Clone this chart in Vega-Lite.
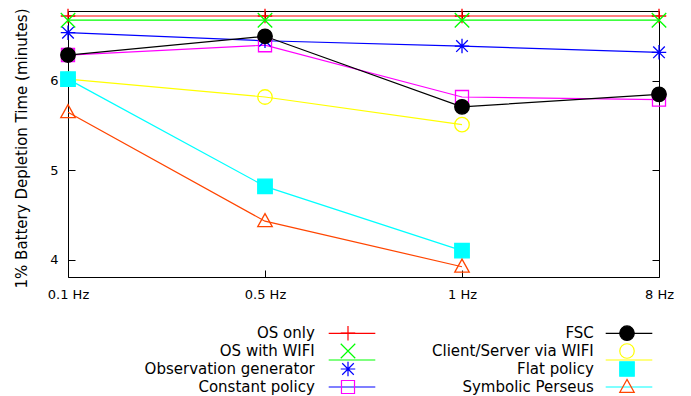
{
  "$schema": "https://vega.github.io/schema/vega-lite/v6.json",
  "width": 591,
  "height": 266,
  "autosize": {"type": "none"},
  "padding": {"left": 68, "top": 11, "right": 32, "bottom": 119},
  "background": "white",
  "config": {
    "view": {"stroke": "black", "strokeWidth": 1},
    "font": "DejaVu Sans",
    "axis": {
      "grid": false,
      "domain": false,
      "tickColor": "black",
      "tickWidth": 1,
      "tickSize": -7,
      "labelFont": "DejaVu Sans",
      "labelFontSize": 13,
      "labelColor": "black",
      "titleFont": "DejaVu Sans",
      "titleFontSize": 15,
      "titleFontWeight": "normal",
      "titleColor": "black"
    },
    "legend": {
      "labelFont": "DejaVu Sans",
      "labelFontSize": 15,
      "labelColor": "black",
      "labelLimit": 400
    }
  },
  "data": {
    "values": [
      {"series": "OS only", "freq": "0.1 Hz", "value": 6.727},
      {"series": "OS only", "freq": "0.5 Hz", "value": 6.727},
      {"series": "OS only", "freq": "1 Hz", "value": 6.727},
      {"series": "OS only", "freq": "8 Hz", "value": 6.727},
      {"series": "OS with WIFI", "freq": "0.1 Hz", "value": 6.68},
      {"series": "OS with WIFI", "freq": "0.5 Hz", "value": 6.68},
      {"series": "OS with WIFI", "freq": "1 Hz", "value": 6.68},
      {"series": "OS with WIFI", "freq": "8 Hz", "value": 6.68},
      {"series": "Observation generator", "freq": "0.1 Hz", "value": 6.54},
      {"series": "Observation generator", "freq": "0.5 Hz", "value": 6.45},
      {"series": "Observation generator", "freq": "1 Hz", "value": 6.39},
      {"series": "Observation generator", "freq": "8 Hz", "value": 6.32},
      {"series": "Constant policy", "freq": "0.1 Hz", "value": 6.29},
      {"series": "Constant policy", "freq": "0.5 Hz", "value": 6.40},
      {"series": "Constant policy", "freq": "1 Hz", "value": 5.82},
      {"series": "Constant policy", "freq": "8 Hz", "value": 5.79},
      {"series": "FSC", "freq": "0.1 Hz", "value": 6.29},
      {"series": "FSC", "freq": "0.5 Hz", "value": 6.50},
      {"series": "FSC", "freq": "1 Hz", "value": 5.71},
      {"series": "FSC", "freq": "8 Hz", "value": 5.85},
      {"series": "Client/Server via WIFI", "freq": "0.1 Hz", "value": 6.02},
      {"series": "Client/Server via WIFI", "freq": "0.5 Hz", "value": 5.82},
      {"series": "Client/Server via WIFI", "freq": "1 Hz", "value": 5.51},
      {"series": "Flat policy", "freq": "0.1 Hz", "value": 6.02},
      {"series": "Flat policy", "freq": "0.5 Hz", "value": 4.82},
      {"series": "Flat policy", "freq": "1 Hz", "value": 4.10},
      {"series": "Symbolic Perseus", "freq": "0.1 Hz", "value": 5.65},
      {"series": "Symbolic Perseus", "freq": "0.5 Hz", "value": 4.43},
      {"series": "Symbolic Perseus", "freq": "1 Hz", "value": 3.92}
    ]
  },
  "layer": [
    {
      "mark": {"type": "line", "strokeWidth": 1.2},
      "encoding": {
        "x": {
          "field": "freq", "type": "ordinal",
          "scale": {"type": "point", "padding": 0, "domain": ["0.1 Hz", "0.5 Hz", "1 Hz", "8 Hz"]},
          "axis": {"title": null, "labelAngle": 0, "labelPadding": 18, "orient": "bottom"}
        },
        "y": {
          "field": "value", "type": "quantitative",
          "scale": {"domain": [3.805, 6.783], "nice": false, "zero": false},
          "axis": {"title": "1% Battery Depletion Time (minutes)", "values": [4, 5, 6], "labelPadding": 17, "titlePadding": 20, "titleY": 137, "orient": "left"}
        },
        "color": {
          "field": "series", "type": "nominal",
          "scale": {
            "domain": ["OS only", "FSC", "OS with WIFI", "Client/Server via WIFI", "Observation generator", "Flat policy", "Constant policy", "Symbolic Perseus"],
            "range": ["#ff0000", "#000000", "#00ff00", "#ffff00", "#0000ff", "#00ffff", "#ff00ff", "#ff4500"]
          },
          "legend": {
            "title": null,
            "orient": "none",
            "direction": "horizontal",
            "legendX": 260,
            "legendY": 298,
            "columns": 2,
            "columnPadding": 225,
            "rowPadding": -16,
            "symbolType": "stroke",
            "symbolSize": 2172,
            "symbolStrokeWidth": 1.2,
            "symbolOffset": 0,
            "labelExpr": "''",
            "labelFontSize": 1,
            "labelOffset": 0,
            "zindex": 0
          }
        },
        "detail": {"field": "series"}
      }
    },
    {
      "mark": {"type": "point", "strokeWidth": 1.3, "opacity": 1, "size": 210},
      "encoding": {
        "x": {"field": "freq", "type": "ordinal", "axis": null},
        "y": {"field": "value", "type": "quantitative", "axis": null},
        "stroke": {
          "field": "series", "type": "nominal",
          "scale": {
            "domain": ["OS only", "OS with WIFI", "Observation generator", "Constant policy", "FSC", "Client/Server via WIFI", "Flat policy", "Symbolic Perseus"],
            "range": ["#ff0000", "#00ff00", "#0000ff", "#ff00ff", "#000000", "#ffff00", "#00ffff", "#ff4500"]
          },
          "legend": {
            "title": null,
            "orient": "none",
            "legendX": 272,
            "legendY": 314,
            "columns": 2,
            "columnPadding": 74,
            "rowPadding": -4,
            "labelAlign": "right",
            "labelOffset": -41.2,
            "labelLimit": 400,
            "symbolOffset": 0,
            "symbolSize": 210,
            "symbolStrokeWidth": 1.2,
            "zindex": 1
          }
        },
        "fill": {
          "field": "series", "type": "nominal",
          "scale": {
            "domain": ["OS only", "OS with WIFI", "Observation generator", "Constant policy", "FSC", "Client/Server via WIFI", "Flat policy", "Symbolic Perseus"],
            "range": ["transparent", "transparent", "transparent", "transparent", "#000000", "transparent", "#00ffff", "transparent"]
          }
        },
        "shape": {
          "field": "series", "type": "nominal",
          "scale": {
            "domain": ["OS only", "OS with WIFI", "Observation generator", "Constant policy", "FSC", "Client/Server via WIFI", "Flat policy", "Symbolic Perseus"],
            "range": [
              "M-1,0H1M0,-1V1",
              "M-1,-1L1,1M-1,1L1,-1",
              "M-1,0H1M0,-1V1M-0.8,-0.8L0.8,0.8M-0.8,0.8L0.8,-0.8",
              "M-0.9,-0.9H0.9V0.9H-0.9Z",
              "M1,0A1,1,0,1,1,-1,0A1,1,0,1,1,1,0Z",
              "M1,0A1,1,0,1,1,-1,0A1,1,0,1,1,1,0Z",
              "M-1,-1H1V1H-1Z",
              "M0,-1.05L1,0.75H-1Z"
            ]
          }
        }
      }
    },
    {
      "mark": {"type": "point", "opacity": 0},
      "encoding": {
        "x": {"field": "freq", "type": "ordinal", "axis": {"orient": "top", "labels": false, "title": null}},
        "y": {"field": "value", "type": "quantitative", "axis": {"orient": "right", "labels": false, "title": null, "values": [4, 5, 6]}}
      }
    }
  ],
  "resolve": {"axis": {"x": "independent", "y": "independent"}}
}
